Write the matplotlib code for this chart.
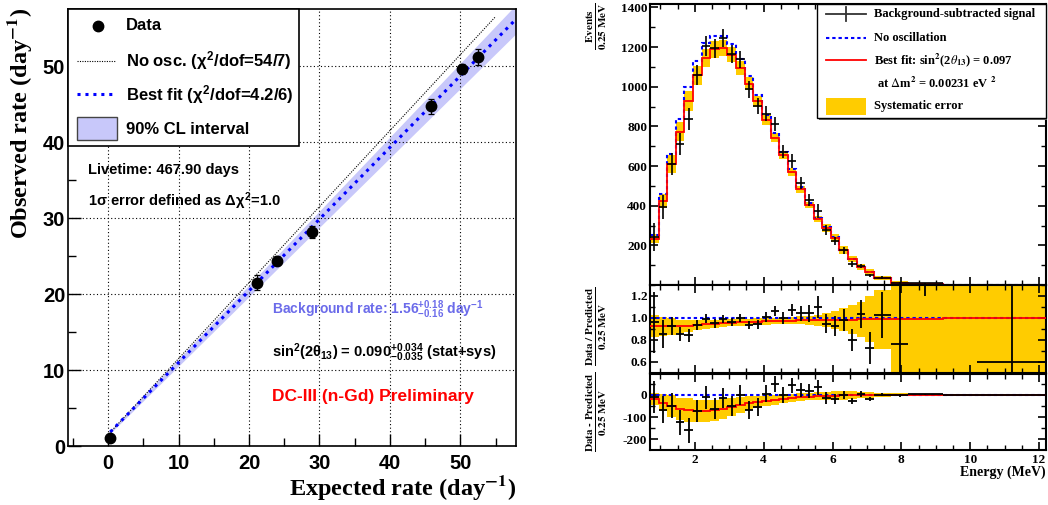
import numpy as np
import matplotlib.pyplot as plt
from matplotlib.patches import Rectangle
from matplotlib.lines import Line2D
from matplotlib.ticker import MultipleLocator, FixedLocator

plt.rcParams['mathtext.fontset'] = 'custom'
plt.rcParams['mathtext.rm'] = 'Liberation Sans:bold'
plt.rcParams['mathtext.it'] = 'Liberation Sans:bold'
plt.rcParams['mathtext.bf'] = 'Liberation Sans:bold'
plt.rcParams['mathtext.sf'] = 'Liberation Sans:bold'

W, H = 1048, 505

# ---- left: observed vs expected rate ----
expected = [0.3, 21.2, 24.0, 28.9, 45.8, 50.3, 52.5]
observed = [1.0, 21.5, 24.4, 28.2, 44.7, 49.6, 51.2]
obs_err = [0.3, 1.0, 0.6, 0.8, 1.0, 0.6, 1.1]
bkg_rate = 1.56
fit_slope = 0.943
fit_slope_err = 0.03
bkg_err = 0.17
noosc_bkg = 1.5
fit_range = [0.3, 57.9]
noosc_range = [0.3, 55.0]

# ---- right: energy spectrum (events / 0.25 MeV) ----
edges = [0.70, 0.95, 1.20, 1.45, 1.70, 1.95, 2.20, 2.45, 2.70, 2.95, 3.20,
         3.45, 3.70, 3.95, 4.20, 4.45, 4.70, 4.95, 5.20, 5.45, 5.70, 5.95,
         6.20, 6.45, 6.70, 6.95, 7.20, 7.70, 8.20, 9.20, 10.20, 12.20]
data = [242, 393, 611, 712, 836, 1058, 1207, 1194, 1244, 1165, 1138, 987,
        903, 863, 812, 673, 626, 515, 430, 374, 277, 222, 176, 106, 96, 48,
        37, 8, 8, 0, 0.3]
data_err = [70, 60, 56, 55, 55, 50, 50, 48, 45, 45, 44, 42, 40, 38, 37, 35,
            34, 32, 31, 34, 26, 22, 18, 13, 12, 9.5, 7.5, 7, 2, 0, 0.5]
no_osc = [252, 460, 661, 836, 996, 1130, 1219, 1257, 1257, 1215, 1138, 1055,
          959, 858, 765, 673, 584, 495, 413, 340, 292, 240, 179, 133, 93, 66,
          36, 10.5, 5, 1.0, 0.5]
fit_ratio = [0.925, 0.922, 0.922, 0.925, 0.93, 0.935, 0.94, 0.945, 0.95,
             0.955, 0.96, 0.963, 0.966, 0.969, 0.971, 0.973, 0.975, 0.977,
             0.978, 0.98, 0.981, 0.982, 0.984, 0.985, 0.986, 0.987, 0.988,
             0.99, 0.992, 0.995, 0.997]
sys_rel = [0.10, 0.085, 0.075, 0.06, 0.055, 0.045, 0.04, 0.037, 0.035, 0.033,
           0.032, 0.03, 0.03, 0.03, 0.03, 0.03, 0.033, 0.036, 0.04, 0.05,
           0.066, 0.085, 0.105, 0.13, 0.16, 0.21, 0.27, 0.7, 0.9, 1.2, 1.5]

SANS = 'Liberation Sans'
SERIF = 'Liberation Serif'
YELLOW = '#ffcc00'
BAND = '#c8c8fa'

fig = plt.figure(figsize=(W / 100, H / 100), dpi=100)


def fx(px):
    return px / W


def fy(py):
    return 1 - py / H


# ================= left panel =================
ax = fig.add_axes([fx(68), fy(446), fx(516) - fx(68), fy(9) - fy(446)])
ax.set_xlim(-5.7, 57.9)
ax.set_ylim(0, 57.5)

xs = np.array(fit_range)
ax.fill_between(xs, bkg_rate - bkg_err + (fit_slope - fit_slope_err) * xs,
                bkg_rate + bkg_err + (fit_slope + fit_slope_err) * xs,
                color=BAND, lw=0, zorder=1)
xn = np.array(noosc_range)
ax.plot(xn, noosc_bkg + xn, color='black', lw=0.8, ls=(0, (1, 1.2)), zorder=2)
ax.plot(xs, bkg_rate + fit_slope * xs, color='#0000ff', lw=2.2,
        ls=(0, (1, 1.6)), zorder=3)
ax.errorbar(expected, observed, yerr=obs_err, fmt='o', color='black',
            ms=7.5, elinewidth=0.9, capsize=2, capthick=0.9, zorder=4)

ax.xaxis.set_major_locator(MultipleLocator(10))
ax.xaxis.set_minor_locator(MultipleLocator(5))
ax.yaxis.set_major_locator(MultipleLocator(10))
ax.yaxis.set_minor_locator(MultipleLocator(5))
ax.grid(True, which='major', color='black', lw=0.8, ls=(0, (1, 2.2)))
ax.tick_params(which='both', direction='in', labelsize=14.5)
ax.tick_params(which='major', length=9, width=1)
ax.tick_params(which='minor', length=6, width=1)
ax.tick_params(axis='x', pad=6)
ax.tick_params(axis='y', pad=2)
for lab in ax.get_xticklabels() + ax.get_yticklabels():
    lab.set_family(SANS)
    lab.set_weight('bold')
for s in ax.spines.values():
    s.set_linewidth(1.2)

fig.text(fx(516), fy(487), r"Expected rate (day$^{\mathbf{-1}}$)", ha='right',
         va='center', family=SERIF, weight='bold', size=17.5,
         math_fontfamily='stix')
fig.text(fx(20), fy(8), r"Observed rate (day$^{\mathbf{-1}}$)", ha='center',
         va='top', rotation=90, family=SERIF, weight='bold', size=17.5,
         math_fontfamily='stix')

# legend box (left)
fig.add_artist(Rectangle((fx(68), fy(146)), fx(299) - fx(68), fy(9) - fy(146),
                         transform=fig.transFigure, fc='white', ec='black',
                         lw=1.2, zorder=5))
fig.add_artist(Line2D([fx(97.7)], [fy(26)], marker='o', ms=7.5, color='black',
                      transform=fig.transFigure, zorder=6))
fig.add_artist(Line2D([fx(77), fx(115)], [fy(60.7)] * 2, color='black', lw=0.8,
                      ls=(0, (1, 1.2)), transform=fig.transFigure, zorder=6))
fig.add_artist(Line2D([fx(77), fx(115)], [fy(94.3)] * 2, color='#0000ff',
                      lw=2.2, ls=(0, (1, 1.6)), transform=fig.transFigure,
                      zorder=6))
fig.add_artist(Rectangle((fx(77), fy(140)), fx(117.3) - fx(77),
                         fy(116.7) - fy(140), transform=fig.transFigure,
                         fc=BAND, ec='#444444', lw=1, zorder=6))
leg_kw = dict(family=SANS, weight='bold', size=12, va='center', zorder=7)
fig.text(fx(125.7), fy(26), "Data", **leg_kw)
fig.text(fx(125.7), fy(60.5), r"No osc. ($\chi^2$/dof=54/7)", **leg_kw)
fig.text(fx(125.7), fy(94.3), r"Best fit ($\chi^2$/dof=4.2/6)", **leg_kw)
fig.text(fx(125.7), fy(129.3), "90% CL interval", **leg_kw)

txt_kw = dict(family=SANS, weight='bold', va='center', size=10.5)
fig.text(fx(88), fy(170), "Livetime: 467.90 days", **txt_kw)
fig.text(fx(88), fy(201), r"1$\sigma$ error defined as $\Delta\chi^2$=1.0",
         **txt_kw)
fig.text(fx(272), fy(310), r"Background rate: 1.56$^{+0.18}_{-0.16}$ day$^{-1}$",
         color='#6b6bea', family=SANS, weight='bold', va='center', size=10)
fig.text(fx(272), fy(353),
         r"sin$^2$(2$\theta_{13}$) = 0.090$^{+0.034}_{-0.035}$ (stat+sys)",
         **txt_kw)
fig.text(fx(272), fy(396), "DC-III (n-Gd) Preliminary", color='#ff0000',
         family=SANS, weight='bold', va='center', size=12.5)

# ================= right panels =================
e = np.array(edges)
lo, wd = e[:-1], np.diff(e)
ctr = lo + wd / 2
d = np.array(data, dtype=float)
derr = np.array(data_err, dtype=float)
n0 = np.array(no_osc, dtype=float)
r = np.array(fit_ratio)
sr = np.array(sys_rel)
best = n0 * r

axm = fig.add_axes([fx(650), fy(285), fx(1046) - fx(650), fy(4) - fy(285)])
axr = fig.add_axes([fx(650), fy(372.7), fx(1046) - fx(650), fy(285) - fy(372.7)])
axd = fig.add_axes([fx(650), fy(450), fx(1046) - fx(650), fy(374) - fy(450)])

BLUE_LS = (0, (1.6, 1.4))

# main spectrum
axm.bar(lo, 2 * sr * best, width=wd, bottom=best - sr * best, align='edge',
        color=YELLOW, lw=0, zorder=1)
axm.stairs(n0, e, color='#0000ff', lw=1.5, ls=BLUE_LS, baseline=None, zorder=2)
axm.stairs(best, e, color='#ff0000', lw=1.3, baseline=None, zorder=3)
axm.errorbar(ctr, d, yerr=derr, xerr=wd / 2, fmt='none', ecolor='black',
             elinewidth=1.2, zorder=4)
axm.set_ylim(0, 1417)
axm.yaxis.set_major_locator(FixedLocator([200, 400, 600, 800, 1000, 1200, 1400]))
axm.yaxis.set_minor_locator(MultipleLocator(100))

# ratio
axr.bar(lo, 2 * sr, width=wd, bottom=r - sr, align='edge', color=YELLOW, lw=0,
        zorder=1)
axr.axhline(1.0, color='#0000ff', lw=1.5, ls=BLUE_LS, zorder=2)
axr.stairs(r, e, color='#ff0000', lw=1.3, baseline=None, zorder=3)
axr.errorbar(ctr, d / n0, yerr=derr / n0, xerr=wd / 2, fmt='none',
             ecolor='black', elinewidth=1.3, zorder=4)
axr.set_ylim(0.5, 1.3)
axr.yaxis.set_major_locator(FixedLocator([0.6, 0.8, 1.0, 1.2]))
axr.yaxis.set_minor_locator(MultipleLocator(0.1))
axr.set_yticklabels(['0.6', '0.8', '1.0', '1.2'])

# difference
diff_fit = best - n0
axd.bar(lo, 2 * sr * n0, width=wd, bottom=diff_fit - sr * n0, align='edge',
        color=YELLOW, lw=0, zorder=1)
axd.axhline(0.0, color='#0000ff', lw=1.5, ls=BLUE_LS, zorder=2)
axd.stairs(diff_fit, e, color='#ff0000', lw=1.3, baseline=None, zorder=3)
axd.errorbar(ctr, d - n0, yerr=derr, xerr=wd / 2, fmt='none', ecolor='black',
             elinewidth=1.3, zorder=4)
axd.set_ylim(-248, 93)
axd.yaxis.set_major_locator(FixedLocator([-200, -100, 0]))
axd.yaxis.set_minor_locator(MultipleLocator(50))
axd.set_yticklabels(['-200', '-100', '0'])

for a in (axm, axr, axd):
    a.set_xlim(0.7, 12.2)
    a.xaxis.set_major_locator(MultipleLocator(2))
    a.xaxis.set_minor_locator(MultipleLocator(0.5))
    a.tick_params(which='both', direction='in', top=True, right=True,
                  labelsize=9.5, pad=2)
    a.tick_params(which='major', length=6, width=1.2)
    a.tick_params(which='minor', length=3.5, width=1)
    for s in a.spines.values():
        s.set_linewidth(1.5)
    for lab in a.get_xticklabels() + a.get_yticklabels():
        lab.set_family(SERIF)
        lab.set_weight('bold')
axm.tick_params(labelbottom=False)
axr.tick_params(labelbottom=False)
axd.tick_params(axis='x', pad=3)

fig.text(fx(1046), fy(472), "Energy (MeV)", ha='right', va='center',
         family=SERIF, weight='bold', size=10)
frac_kw = dict(rotation=90, ha='center', size=11.5, math_fontfamily='stix')
fig.text(fx(597), fy(2), r"$\frac{\mathbf{Events}}{\mathbf{0.25\ MeV}}$",
         va='top', **frac_kw)
fig.text(fx(597), fy(326.5), r"$\frac{\mathbf{Data\ /\ Predicted}}{\mathbf{0.25\ MeV}}$",
         va='center', **frac_kw)
fig.text(fx(597), fy(412), "$\\frac{\\mathbf{Data\\ \u2010\\ Predicted}}{\\mathbf{0.25\\ MeV}}$",
         va='center', **frac_kw)

# legend box (right)
fig.add_artist(Rectangle((fx(819), fy(120)), fx(1047) - fx(819), fy(6) - fy(120),
                         transform=fig.transFigure, fc='#666666', ec='none',
                         zorder=5))
fig.add_artist(Rectangle((fx(817.3), fy(118.3)), fx(1046) - fx(817.3),
                         fy(4) - fy(118.3), transform=fig.transFigure,
                         fc='white', ec='black', lw=1, zorder=6))
fig.add_artist(Line2D([fx(826), fx(866)], [fy(14)] * 2, color='#333333', lw=1.3,
                      transform=fig.transFigure, zorder=7))
fig.add_artist(Line2D([fx(846), fx(846)], [fy(7), fy(21)], color='#333333',
                      lw=1.3, transform=fig.transFigure, zorder=7))
fig.add_artist(Line2D([fx(826), fx(866)], [fy(37.7)] * 2, color='#0000ff',
                      lw=1.5, ls=BLUE_LS, transform=fig.transFigure, zorder=7))
fig.add_artist(Line2D([fx(826), fx(866)], [fy(60)] * 2, color='#ff0000', lw=1.3,
                      transform=fig.transFigure, zorder=7))
fig.add_artist(Rectangle((fx(826), fy(115)), fx(866) - fx(826), fy(98) - fy(115),
                         transform=fig.transFigure, fc=YELLOW, ec='none',
                         zorder=7))
rl_kw = dict(family=SERIF, weight='bold', size=9, va='center', zorder=8,
             math_fontfamily='stix')
fig.text(fx(874), fy(14), "Background-subtracted signal", **rl_kw)
fig.text(fx(874), fy(37.7), "No oscillation", **rl_kw)
fig.text(fx(874), fy(60),
         r"Best fit: sin$^{\mathbf{2}}$(2$\theta_{\mathbf{13}}$) = 0.097", **rl_kw)
fig.text(fx(877.3), fy(83.3),
         r"at $\Delta$m$^{\mathbf{2}}$ = 0.00231 eV $^{\mathbf{2}}$", **rl_kw)
fig.text(fx(874), fy(106), "Systematic error", **rl_kw)

fig.savefig('out.png', dpi=100)
